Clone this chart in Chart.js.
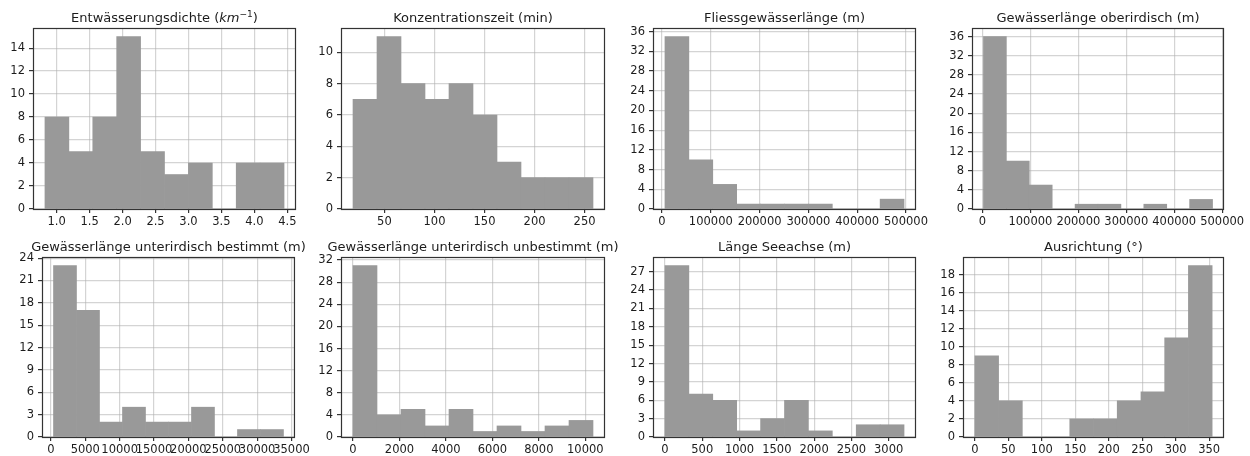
<!DOCTYPE html>
<html>
<head>
<meta charset="utf-8">
<script src="https://cdn.jsdelivr.net/npm/chart.js@4.4.1/dist/chart.umd.min.js"></script>
<style>
   body { margin: 0; background: #fff; width: 1250px; height: 456px; position: relative; overflow: hidden; }
   canvas { position: absolute; }
</style>
</head>
<body>
<script>
// histogram data, one entry per panel
const titles = [
   'Entwässerungsdichte ($km^{-1}$)',
   'Konzentrationszeit (min)',
   'Fliessgewässerlänge (m)',
   'Gewässerlänge oberirdisch (m)',
   'Gewässerlänge unterirdisch bestimmt (m)',
   'Gewässerlänge unterirdisch unbestimmt (m)',
   'Länge Seeachse (m)',
   'Ausrichtung (°)'
];
const binStart = [0.822, 18.6, 6000, 2000, 373, 0, 0, 0];
const binEnd = [4.45, 258.4, 496000, 480000, 33833, 10331, 3206, 354.5];
const counts = [
   [8, 5, 8, 15, 5, 3, 4, 0, 4, 4],
   [7, 11, 8, 7, 8, 6, 3, 2, 2, 2],
   [35, 10, 5, 1, 1, 1, 1, 0, 0, 2],
   [36, 10, 5, 0, 1, 1, 0, 1, 0, 2],
   [23, 17, 2, 4, 2, 2, 4, 0, 1, 1],
   [31, 4, 5, 2, 5, 1, 2, 1, 2, 3],
   [28, 7, 6, 1, 3, 6, 1, 0, 2, 2],
   [9, 4, 0, 0, 2, 2, 4, 5, 11, 19]
];
const xTicks = [
   [1.0, 1.5, 2.0, 2.5, 3.0, 3.5, 4.0, 4.5],
   [50, 100, 150, 200, 250],
   [0, 100000, 200000, 300000, 400000, 500000],
   [0, 100000, 200000, 300000, 400000, 500000],
   [0, 5000, 10000, 15000, 20000, 25000, 30000, 35000],
   [0, 2000, 4000, 6000, 8000, 10000],
   [0, 500, 1000, 1500, 2000, 2500, 3000],
   [0, 50, 100, 150, 200, 250, 300, 350]
];
const yTicks = [
   [0, 2, 4, 6, 8, 10, 12, 14],
   [0, 2, 4, 6, 8, 10],
   [0, 4, 8, 12, 16, 20, 24, 28, 32, 36],
   [0, 4, 8, 12, 16, 20, 24, 28, 32, 36],
   [0, 3, 6, 9, 12, 15, 18, 21, 24],
   [0, 4, 8, 12, 16, 20, 24, 28, 32],
   [0, 3, 6, 9, 12, 15, 18, 21, 24, 27],
   [0, 2, 4, 6, 8, 10, 12, 14, 16, 18]
];

// panel placement (cell origin, axes left/right inside the cell)
const cells = [
   { x: 0, y: 0, w: 312, l: 33, r: 296 },
   { x: 312, y: 0, w: 312, l: 29, r: 293 },
   { x: 624, y: 0, w: 312, l: 29, r: 292 },
   { x: 936, y: 0, w: 314, l: 36, r: 288 },
   { x: 0, y: 228, w: 312, l: 42, r: 296 },
   { x: 312, y: 228, w: 312, l: 29, r: 293 },
   { x: 624, y: 228, w: 312, l: 29, r: 292 },
   { x: 936, y: 228, w: 314, l: 27, r: 288 }
];
const CELL_H = 228;
const AX_TOP = 28;
const AX_BOTTOM = 209;
const INK = '#1c1c1c';

Chart.defaults.font.family = "'DejaVu Sans'";
Chart.defaults.font.size = 11.5;
Chart.defaults.color = INK;

// split "$km^{-1}$" style mathtext into drawable parts
function titleParts(s) {
   const parts = [];
   s.split('$').forEach((seg, k) => {
      if (k % 2 === 0) {
         if (seg) parts.push({ t: seg });
         return;
      }
      const m = seg.match(/^(.*?)\^\{(.*)\}$/);
      parts.push({ t: m[1], italic: true });
      parts.push({ t: m[2].replace('-', '\u2212'), sup: true });
   });
   return parts;
}

const frameAndTitle = {
   id: 'frameAndTitle',
   afterDraw(chart, args, opts) {
      const { ctx, chartArea: a } = chart;
      ctx.save();
      ctx.strokeStyle = '#333';
      ctx.lineWidth = 1.2;
      ctx.strokeRect(a.left + 0.5, a.top + 0.5, a.right - a.left - 1, a.bottom - a.top);

      const size = 13;
      const fontOf = p => (p.italic ? 'italic ' : '') + (p.sup ? size * 0.7 : size) + "px 'DejaVu Sans'";
      const parts = titleParts(opts.text);
      let total = 0;
      parts.forEach(p => { ctx.font = fontOf(p); p.w = ctx.measureText(p.t).width; total += p.w; });
      let x = (a.left + a.right) / 2 - total / 2;
      const base = a.top - 6;
      ctx.fillStyle = INK;
      ctx.textBaseline = 'alphabetic';
      ctx.textAlign = 'left';
      parts.forEach(p => {
         ctx.font = fontOf(p);
         ctx.fillText(p.t, x, p.sup ? base - size * 0.4 : base);
         x += p.w;
      });
      ctx.restore();
   }
};

titles.forEach((title, i) => {
   const cell = cells[i];
   const canvas = document.createElement('canvas');
   canvas.width = cell.w;
   canvas.height = CELL_H;
   canvas.style.left = cell.x + 'px';
   canvas.style.top = cell.y + 'px';
   document.body.appendChild(canvas);

   const n = counts[i].length;
   const w = (binEnd[i] - binStart[i]) / n;
   const points = counts[i].map((c, k) => ({ x: binStart[i] + (k + 0.5) * w, y: c }));
   const span = binEnd[i] - binStart[i];
   const gridColor = 'rgba(176,176,176,0.55)';

   new Chart(canvas, {
      type: 'bar',
      data: {
         datasets: [{
            data: points,
            backgroundColor: '#999999',
            borderWidth: 0,
            barPercentage: 1,
            categoryPercentage: 1
         }]
      },
      options: {
         responsive: false,
         animation: false,
         layout: { padding: { left: 0, top: AX_TOP + (cell.y ? 1 : 0), right: cell.w - cell.r, bottom: 0 } },
         scales: {
            x: {
               type: 'linear',
               z: 1,
               offset: false,
               min: binStart[i] - span * 0.05,
               max: binEnd[i] + span * 0.05,
               grid: { offset: false, color: gridColor, lineWidth: 1.2, tickColor: '#333', tickLength: 4 },
               border: { display: false },
               ticks: {
                  autoSkip: false,
                  maxRotation: 0,
                  padding: 2,
                  color: INK,
                  callback: v => (i === 0 ? v.toFixed(1) : String(v))
               },
               afterBuildTicks: s => { s.ticks = xTicks[i].map(v => ({ value: v })); },
               afterFit: s => { s.height = CELL_H - AX_BOTTOM; }
            },
            y: {
               z: 1,
               min: 0,
               max: Math.max(...counts[i]) * 1.05,
               grid: { color: gridColor, lineWidth: 1.2, tickColor: '#333', tickLength: 4 },
               border: { display: false },
               ticks: { autoSkip: false, padding: 4, color: INK, callback: v => String(v) },
               afterBuildTicks: s => { s.ticks = yTicks[i].map(v => ({ value: v })); },
               afterFit: s => { s.width = cell.l; }
            }
         },
         plugins: {
            legend: { display: false },
            tooltip: { enabled: false },
            frameAndTitle: { text: title }
         }
      },
      plugins: [frameAndTitle]
   });
});
</script>
</body>
</html>
